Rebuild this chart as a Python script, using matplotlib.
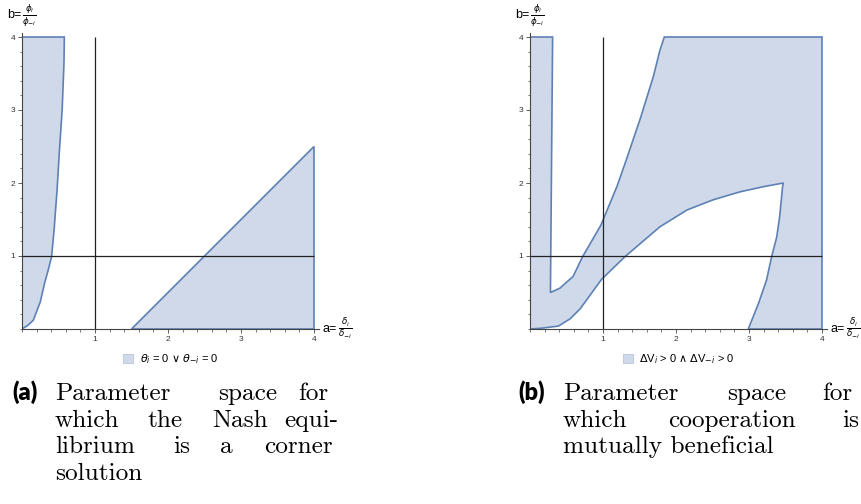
import matplotlib
matplotlib.use('Agg')

import numpy as np
import matplotlib.pyplot as plt
from matplotlib.patches import Polygon, Patch
from matplotlib.ticker import FixedLocator, MultipleLocator

# --- dados ---
# (a) regiao esquerda: fronteira a partir da origem ate o topo
curva_a_x = [0.0, 0.08, 0.155, 0.25, 0.31, 0.36, 0.405, 0.44, 0.48, 0.51, 0.55, 0.575, 0.58]
curva_a_y = [0.0, 0.05, 0.12, 0.37, 0.63, 0.81, 0.99, 1.36, 1.90, 2.40, 3.00, 3.64, 4.00]
# (a) cunha triangular: reta b = a - 1.5
cunha_x = [1.5, 4.0]
cunha_y = [0.0, 2.5]

# (b) borda direita da faixa esquerda
faixa_x = [0.31, 0.28]
faixa_y = [4.0, 0.5]
# (b) curva superior (da faixa ate o topo)
sup_x = [0.28, 0.41, 0.59, 0.72, 0.97, 1.19, 1.32, 1.51, 1.69, 1.78, 1.84]
sup_y = [0.50, 0.56, 0.72, 0.99, 1.42, 1.95, 2.32, 2.88, 3.46, 3.82, 4.00]
# (b) curva inferior (da origem ate o bico)
inf_x = [0.0, 0.15, 0.39, 0.55, 0.69, 0.98, 1.30, 1.51, 1.78, 2.15, 2.51, 2.88, 3.20, 3.47]
inf_y = [0.0, 0.01, 0.04, 0.14, 0.28, 0.68, 0.99, 1.17, 1.40, 1.63, 1.77, 1.88, 1.95, 2.00]
# (b) curva da direita (do bico ate o eixo)
dir_x = [3.47, 3.46, 3.42, 3.38, 3.31, 3.24, 3.13, 2.99]
dir_y = [2.00, 1.95, 1.54, 1.26, 0.99, 0.67, 0.35, 0.00]

ticks = [1, 2, 3, 4]
lim = 4.0

cor_borda = '#5e81b5'
cor_fill = '#cfd9e9'
sans = ['Liberation Sans', 'DejaVu Sans']

fig = plt.figure(figsize=(8.62, 5.04), dpi=100)
W, H = 862, 504
escala = 73.0


def eixo(x0_px, y0_px):
    ax = fig.add_axes([x0_px / W, (H - y0_px) / H, 4.07 * escala / W, 4.05 * escala / H])
    ax.set_xlim(0, 4.07)
    ax.set_ylim(0, 4.05)
    for s in ['top', 'right']:
        ax.spines[s].set_visible(False)
    for s in ['left', 'bottom']:
        ax.spines[s].set_color('#444444')
        ax.spines[s].set_linewidth(0.8)
    ax.xaxis.set_major_locator(FixedLocator(ticks))
    ax.yaxis.set_major_locator(FixedLocator(ticks))
    ax.xaxis.set_minor_locator(MultipleLocator(0.2))
    ax.yaxis.set_minor_locator(MultipleLocator(0.2))
    ax.tick_params(which='major', length=3, width=0.6, color='#444444', labelsize=6,
                   labelcolor='#333333', pad=2)
    ax.tick_params(which='minor', length=1.8, width=0.5, color='#444444')
    for lab in ax.get_xticklabels() + ax.get_yticklabels():
        lab.set_fontfamily('Liberation Sans')
    ax.set_facecolor('none')
    return ax


def rotulos(ax):
    ax.text(4.12, 0.0, r'a=', fontsize=9, family=sans, va='center', ha='left',
            transform=ax.transData, clip_on=False)
    ax.text(4.33, 0.0, r'$\frac{\delta_i}{\delta_{-i}}$', fontsize=9, va='center', ha='left',
            transform=ax.transData, clip_on=False)
    ax.text(-0.2, 4.3, r'b=', fontsize=9, family=sans, va='center', ha='left',
            transform=ax.transData, clip_on=False)
    ax.text(0.0, 4.3, r'$\frac{\phi_i}{\phi_{-i}}$', fontsize=9, va='center', ha='left',
            transform=ax.transData, clip_on=False)


def guias(ax):
    ax.vlines(1, 0, lim, color='#222222', lw=0.9, zorder=3)
    ax.hlines(1, 0, lim, color='#222222', lw=0.9, zorder=3)


def legenda(ax, texto):
    ax.legend(handles=[Patch(fc=cor_fill, ec='#b8c6dc', lw=0.6, label=texto)],
              loc='upper center', bbox_to_anchor=(0.5, -0.045), frameon=False,
              prop={'family': sans, 'size': 8},
              handlelength=0.9, handleheight=0.9, handletextpad=0.6)


# ---------------- (a) ----------------
ax1 = eixo(22, 329)
pa = np.column_stack([curva_a_x + [0.0], curva_a_y + [lim]])
ax1.add_patch(Polygon(pa, closed=True, fc=cor_fill, ec=cor_borda, lw=1.2, zorder=1))
pb = np.column_stack([cunha_x + [lim], cunha_y + [0.0]])
ax1.add_patch(Polygon(pb, closed=True, fc=cor_fill, ec=cor_borda, lw=1.2, zorder=1))
guias(ax1)
rotulos(ax1)
legenda(ax1, r'$\theta_i$ = 0 $\vee$ $\theta_{-i}$ = 0')

# ---------------- (b) ----------------
ax2 = eixo(530, 329)
bx = np.concatenate([[0.0, 0.0], faixa_x, sup_x, [lim, lim], dir_x[::-1], inf_x[::-1]])
by = np.concatenate([[0.0, lim], faixa_y, sup_y, [lim, 0.0], dir_y[::-1], inf_y[::-1]])
ax2.add_patch(Polygon(np.column_stack([bx, by]), closed=True, fc=cor_fill, ec=cor_borda,
                      lw=1.2, zorder=1))
guias(ax2)
rotulos(ax2)
legenda(ax2, r'$\Delta$V$_i$ > 0 $\wedge$ $\Delta$V$_{-i}$ > 0')

# ---------------- legendas (a) e (b) ----------------
fonte_cap = 'cmr10'
tam = 18.2
linhas_a = [
    [('Parameter', 55), ('space', 218), ('for', 298)],
    [('which', 55), ('the', 147), ('Nash', 212), ('equi-', 284)],
    [('librium', 55), ('is', 173), ('a', 220), ('corner', 264)],
    [('solution', 55)],
]
linhas_b = [
    [('Parameter', 563), ('space', 727), ('for', 822)],
    [('which', 563), ('cooperation', 668), ('is', 842)],
    [('mutually beneficial', 563)],
]
base0 = 400
passo = 26.7

fig.text(12 / W, 1 - base0 / H, '(a)', fontsize=17, fontweight='heavy', family='Lato',
         va='baseline', ha='left')
fig.text(518 / W, 1 - base0 / H, '(b)', fontsize=17, fontweight='heavy', family='Lato',
         va='baseline', ha='left')
for linhas in [linhas_a, linhas_b]:
    for i, linha in enumerate(linhas):
        for palavra, xp in linha:
            fig.text(xp / W, 1 - (base0 + i * passo) / H, palavra, fontsize=tam,
                     family=fonte_cap, va='baseline', ha='left')

plt.savefig('out.png', dpi=100)
